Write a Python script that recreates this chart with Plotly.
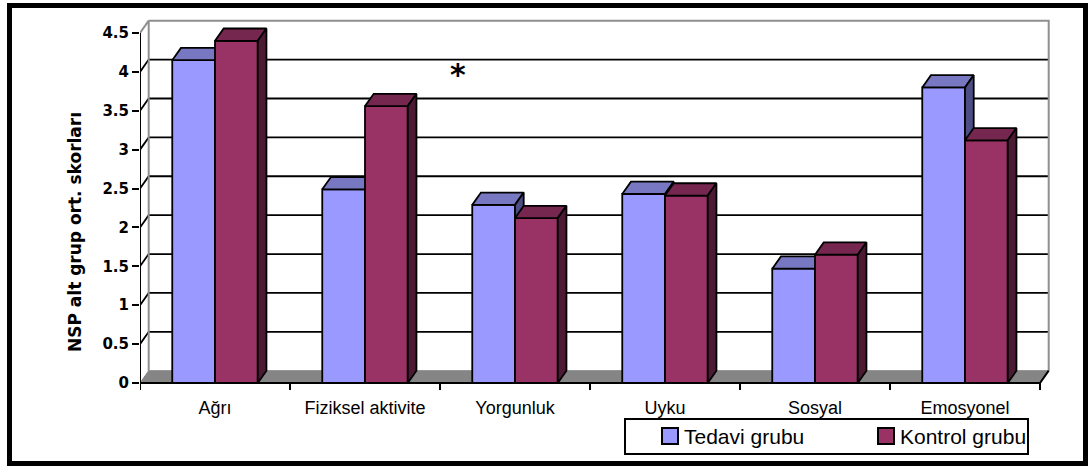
import plotly.graph_objects as go

# ---------------- data ----------------
categories = ["Ağrı", "Fiziksel aktivite", "Yorgunluk", "Uyku", "Sosyal", "Emosyonel"]
tedavi = [4.15, 2.49, 2.29, 2.43, 1.47, 3.80]
kontrol = [4.40, 3.56, 2.12, 2.41, 1.65, 3.12]
series_names = ["Tedavi grubu", "Kontrol grubu"]
y_ticks = [0, 0.5, 1, 1.5, 2, 2.5, 3, 3.5, 4, 4.5]
y_title = "NSP alt grup ort. skorları"
note = "*"

# ---------------- geometry / style ----------------
W, H = 1089, 470
ML, MR, MT, MB = 140, 29, 15, 75
PX_X = 150.0          # px per category
PX_Y = 350.0 / 4.5    # px per value unit
X_MAX = (W - MR - ML) / PX_X
Y0_PX = 383
Y_MAX = (Y0_PX - MT) / PX_Y
Y_MIN = -(H - MB - Y0_PX) / PX_Y
DX = 8.7 / PX_X       # depth offset (x)
DY = 12.3 / PX_Y      # depth offset (y)
BAR_W = 0.285
YMAX_AX = y_ticks[-1]
N = len(categories)

col_front = ["#9999FF", "#993366"]
col_top = ["#7878C2", "#76274F"]
col_side = ["#4E4E86", "#4C1A33"]

PW, PH = W - ML - MR, H - MT - MB


def pxx(p):
    return (p - ML) / PW


def pxy(p):
    return (H - MB - p) / PH


fig = go.Figure()

# floor
fig.add_trace(go.Scatter(
    x=[0, DX, N + DX, N, 0], y=[0, DY, DY, 0, 0], mode="lines",
    fill="toself", fillcolor="#858585", line=dict(color="#858585", width=1),
    hoverinfo="skip", showlegend=False))

# back wall gridlines + side-wall diagonals
gx, gy = [], []
for v in y_ticks[1:-1]:
    gx += [0, DX, N + DX, None]
    gy += [v, v + DY, v + DY, None]
fig.add_trace(go.Scatter(x=gx, y=gy, mode="lines",
                         line=dict(color="black", width=1.8),
                         hoverinfo="skip", showlegend=False))

# wall edges (grey)
fig.add_trace(go.Scatter(
    x=[0, DX, DX, None, DX, N + DX, N + DX],
    y=[YMAX_AX, YMAX_AX + DY, DY, None, YMAX_AX + DY, YMAX_AX + DY, DY],
    mode="lines", line=dict(color="#8f8f8f", width=2),
    hoverinfo="skip", showlegend=False))

# bars (front, top, side faces), Tedavi then Kontrol
for s, vals in enumerate([tedavi, kontrol]):
    fx, fy, tx, ty, sx, sy = [], [], [], [], [], []
    for i, v in enumerate(vals):
        x0 = i + 0.5 - BAR_W + s * BAR_W
        x1 = x0 + BAR_W
        fx += [x0, x1, x1, x0, x0, None]
        fy += [0, 0, v, v, 0, None]
        tx += [x0, x0 + DX, x1 + DX, x1, x0, None]
        ty += [v, v + DY, v + DY, v, v, None]
        sx += [x1, x1 + DX, x1 + DX, x1, x1, None]
        sy += [0, DY, v + DY, v, 0, None]
    for xs, ys, c in [(fx, fy, col_front[s]), (tx, ty, col_top[s]), (sx, sy, col_side[s])]:
        fig.add_trace(go.Scatter(
            x=xs, y=ys, mode="lines", fill="toself", fillcolor=c,
            line=dict(color="black", width=1.8), name=series_names[s],
            hoverinfo="skip", showlegend=False))

# front axes lines and category ticks
TL = 7 / PX_Y
ax_x = [0, 0, N, N + DX, None]
ax_y = [YMAX_AX, 0, 0, DY, None]
for i in range(N + 1):
    ax_x += [i, i, None]
    ax_y += [0, -TL, None]
fig.add_trace(go.Scatter(x=ax_x, y=ax_y, mode="lines",
                         line=dict(color="black", width=2),
                         hoverinfo="skip", showlegend=False))

shapes = []
annotations = []

# outer frame
shapes.append(dict(type="rect", xref="paper", yref="paper",
                   x0=pxx(9.5), x1=pxx(1085.5), y0=pxy(5.5), y1=pxy(463.5),
                   line=dict(color="black", width=5), fillcolor="rgba(0,0,0,0)"))

# legend box
shapes.append(dict(type="rect", xref="paper", yref="paper",
                   x0=pxx(625), x1=pxx(1028), y0=pxy(419), y1=pxy(454),
                   line=dict(color="black", width=2), fillcolor="white"))
leg_sq = [662, 878]
leg_tx = [682, 898]
for s in range(2):
    shapes.append(dict(type="rect", xref="paper", yref="paper",
                       x0=pxx(leg_sq[s]), x1=pxx(leg_sq[s] + 16),
                       y0=pxy(428), y1=pxy(444),
                       line=dict(color="black", width=2), fillcolor=col_front[s]))
    annotations.append(dict(text=series_names[s], xref="paper", yref="paper",
                            x=pxx(leg_tx[s]), y=pxy(437), xanchor="left", yanchor="middle",
                            showarrow=False,
                            font=dict(family="Liberation Sans, Arial", size=21, color="black")))

# y title
annotations.append(dict(text=y_title, xref="paper", yref="paper",
                        x=pxx(75), y=pxy(232), textangle=-90, showarrow=False,
                        xanchor="center", yanchor="middle",
                        font=dict(family="DejaVu Sans", size=17, color="black", weight="bold")))

# asterisk note
annotations.append(dict(text=note, xref="paper", yref="paper",
                        x=pxx(458), y=pxy(74), showarrow=False,
                        xanchor="center", yanchor="middle",
                        font=dict(family="DejaVu Sans", size=30, color="black", weight="bold")))

fig.update_layout(
    width=W, height=H,
    margin=dict(l=ML, r=MR, t=MT, b=MB),
    paper_bgcolor="white", plot_bgcolor="white",
    showlegend=False,
    shapes=shapes, annotations=annotations,
    xaxis=dict(range=[0, X_MAX], showgrid=False, zeroline=False, showline=False,
               tickmode="array", tickvals=[i + 0.5 for i in range(N)], ticktext=categories,
               ticks="", tickfont=dict(family="Liberation Sans, Arial", size=18, color="black"),
               fixedrange=True),
    yaxis=dict(range=[Y_MIN, Y_MAX], showgrid=False, zeroline=False, showline=False,
               tickmode="array", tickvals=y_ticks, ticktext=[f"{t:g}" for t in y_ticks],
               ticks="outside", ticklen=7, tickwidth=2, tickcolor="black",
               tickfont=dict(family="DejaVu Sans", size=15, color="black", weight="bold"),
               fixedrange=True),
)

fig.write_html("out.html")
